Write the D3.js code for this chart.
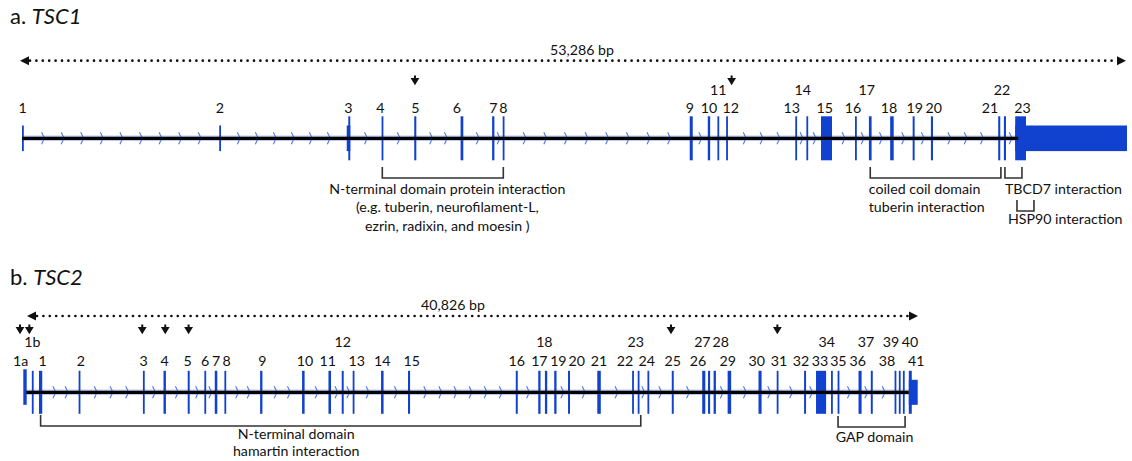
<!DOCTYPE html>
<html><head><meta charset="utf-8">
<script src="https://cdn.jsdelivr.net/npm/d3@7"></script>
<style>
body{margin:0;background:#fff}
svg text{font-family:Lato,"Open Sans",sans-serif;fill:#111}
</style>
</head><body>
<svg id="c" width="1132" height="461"></svg>
<script>
// ================= DATA =================
const tsc1Length = 53286;
const tsc1CdsStart = 15735, tsc1CdsEnd = 48415;
const tsc1ExonNames = ["1","2","3","4","5","6","7","8","9","10","11","12","13","14","15","16","17","18","19","20","21","22","23"];
const tsc1ExonStart = [0,9510,15660,17340,18915,21150,22670,23180,32200,33070,33535,33955,37290,37825,38530,40170,40840,41865,42950,43830,47075,47350,47895];
const tsc1ExonEnd   = [70,9585,15830,17410,19015,21280,22780,23240,32345,33185,33615,34035,37355,37910,39060,40230,40970,42035,43045,43930,47175,47450,53286];
const tsc1Hotspots = [18950, 34220];
const tsc1DomainText = [
  ["N-terminal domain protein interaction","(e.g. tuberin, neurofilament-L,","ezrin, radixin, and moesin )"],
  ["coiled coil domain","tuberin interaction"],
  ["TBCD7 interaction"],
  ["HSP90 interaction"]
];
const tsc1DomainStart = [17375, 40905, 47400, 47980];
const tsc1DomainEnd   = [23210, 47205, 48220, 48800];

const tsc2Length = 40826;
const tsc2CdsStart = 390, tsc2CdsEnd = 40555;
const tsc2ExonNames = ["1a","1b","1","2","3","4","5","6","7","8","9","10","11","12","13","14","15","16","17","18","19","20","21","22","23","24","25","26","27","28","29","30","31","32","33","34","35","36","37","38","39","40","41"];
const tsc2ExonStart = [0,390,715,2525,5460,6400,7505,8265,8740,9180,10810,12725,13930,14535,15035,16330,17560,22480,23505,23810,24235,24865,26200,27790,28045,28490,29600,30990,31255,31510,32150,33560,34390,35640,36185,36870,37170,38125,38685,39770,39965,40150,40420];
const tsc2ExonEnd   = [155,435,865,2585,5530,6510,7595,8325,8855,9235,10915,12840,14045,14625,15095,16445,17655,22570,23610,23915,24340,24955,26360,27850,28105,28550,29690,31130,31350,31615,32310,33700,34450,35730,36645,36940,37240,38265,38775,39815,40010,40195,40826];
const tsc2Hotspots = [-150, 275, 5430, 6480, 7545, 29565, 34420];
const tsc2DomainText = [
  ["N-terminal domain","hamartin interaction"],
  ["GAP domain"]
];
const tsc2DomainStart = [790, 37190];
const tsc2DomainEnd   = [28185, 40250];

// ================= LAYOUT / STYLE =================
const EXON = "#1141cf", CHEV = "#4d78e4", HALO = "#bccbf3";
const FS = "14.2px";
const svg = d3.select("#c");

function drawGene(cfg) {
  const x = d3.scaleLinear().domain([0, cfg.length]).range(cfg.range);
  const g = svg.append("g");
  // title
  const t = g.append("text").attr("x", 10).attr("y", cfg.titleY).style("font-size", "22px");
  t.append("tspan").text(cfg.prefix + " ");
  t.append("tspan").style("font-style", "italic").text(cfg.gene);
  // dotted length arrow
  const ay = cfg.arrowY, ax0 = cfg.arrowX[0], ax1 = cfg.arrowX[1];
  g.append("line").attr("x1", ax0 + 10).attr("x2", ax1 - 9).attr("y1", ay).attr("y2", ay)
    .attr("stroke", "#111").attr("stroke-width", 2.7).attr("stroke-linecap", "round")
    .attr("stroke-dasharray", "0,6.4");
  g.append("path").attr("d", `M${ax0},${ay} l9,-4.5 l0,9 z`).attr("fill", "#111");
  g.append("path").attr("d", `M${ax1},${ay} l-9,-4.5 l0,9 z`).attr("fill", "#111");
  g.append("text").attr("x", cfg.lenLabelX).attr("y", cfg.lenLabelY).attr("text-anchor", "middle")
    .style("font-size", FS).text(d3.format(",")(cfg.length) + " bp");

  const exons = cfg.names.map((n, i) => ({name: n, s: cfg.starts[i], e: cfg.ends[i]}));
  const cy = cfg.cy;
  // backbone halo
  const bb0 = x(exons[0].s) + cfg.bbPad[0], bb1 = x(exons[exons.length - 1].s) + cfg.bbPad[1];
  g.append("line").attr("x1", bb0).attr("x2", bb1).attr("y1", cy).attr("y2", cy)
    .attr("stroke", HALO).attr("stroke-width", 5.5);
  // chevrons in introns
  const chev = [];
  for (let i = 0; i < exons.length - 1; i++) {
    const a = x(exons[i].e), b = x(exons[i + 1].s), gap = b - a;
    if (gap < 8) continue;
    let n = Math.floor(gap / cfg.chevSpacing);
    if (n < 1) n = 1;
    for (let k = 1; k <= n; k++) chev.push(a + gap * k / (n + 1));
  }
  g.selectAll(".chev").data(chev).join("path").attr("class", "chev")
    .attr("d", d => `M${d - 1.4},${cy - 6} L${d + 1.4},${cy} L${d - 1.4},${cy + 6}`)
    .attr("fill", "none").attr("stroke", CHEV).attr("stroke-width", 1.1);
  // exons: UTR height for full extent, tall for CDS overlap
  const w = (a, b) => Math.max(1.8, x(b) - x(a));
  g.selectAll(".utr").data(exons.filter(d => d.s < cfg.cds[0] || d.e > cfg.cds[1])).join("rect")
    .attr("x", d => x(d.s)).attr("width", d => w(d.s, d.e))
    .attr("y", d => cy - (cfg.utrTall[d.name] || cfg.utrH)).attr("height", d => (cfg.utrTall[d.name] || cfg.utrH) + cfg.utrH)
    .attr("fill", EXON);
  const cdsEx = exons.filter(d => d.e > cfg.cds[0] && d.s < cfg.cds[1])
    .map(d => ({name: d.name, s: Math.max(d.s, cfg.cds[0]), e: Math.min(d.e, cfg.cds[1])}));
  g.selectAll(".cds").data(cdsEx).join("rect")
    .attr("x", d => x(d.s)).attr("width", d => w(d.s, d.e))
    .attr("y", cy - cfg.tallH).attr("height", 2 * cfg.tallH).attr("fill", EXON);
  // black backbone on top
  g.append("line").attr("x1", bb0).attr("x2", bb1).attr("y1", cy).attr("y2", cy)
    .attr("stroke", "#000").attr("stroke-width", 3.3);
  // exon labels
  const lab = exons.map(d => {
    const s = Math.max(d.s, cfg.cds[0]), e = Math.min(d.e, cfg.cds[1]);
    const c = (e > s) ? (x(s) + x(e)) / 2 : (x(d.s) + x(d.e)) / 2;
    return {name: d.name, x: c + (cfg.nudge[d.name] || 0), y: cfg.upper.has(d.name) ? cfg.labY[1] : cfg.labY[0]};
  });
  g.selectAll(".lab").data(lab).join("text").attr("class", "lab")
    .attr("x", d => d.x).attr("y", d => d.y).attr("text-anchor", "middle")
    .style("font-size", FS).text(d => d.name);
  // hotspot arrows
  g.selectAll(".hot").data(cfg.hot).join("path").attr("class", "hot")
    .attr("d", d => { const hx = x(d), hy = cfg.hotY; return `M${hx - 1},${hy} h2 v2.5 h3.4 l-4.4,7.2 l-4.4,-7.2 h3.4 z`; })
    .attr("fill", "#111");
  // domain brackets
  cfg.domS.forEach((s, i) => {
    const L = cfg.domLayout[i];
    const x0 = x(s), x1 = x(cfg.domE[i]);
    g.append("path").attr("d", `M${x0},${L.top} V${L.top + L.drop} H${x1} V${L.top}`)
      .attr("fill", "none").attr("stroke", "#333").attr("stroke-width", 1.6);
    const tx = L.anchor === "middle" ? (x0 + x1) / 2 + L.dx : x0 + L.dx;
    cfg.domText[i].forEach((line, j) => {
      g.append("text").attr("x", tx).attr("y", L.ty + j * L.lh).attr("text-anchor", L.anchor)
        .style("font-size", FS).text(line);
    });
  });
}

drawGene({
  prefix: "a.", gene: "TSC1", titleY: 24,
  length: tsc1Length, range: [22, 1127], cy: 138.3,
  arrowY: 60.7, arrowX: [20, 1126], lenLabelX: 582, lenLabelY: 54.5,
  names: tsc1ExonNames, starts: tsc1ExonStart, ends: tsc1ExonEnd, cds: [tsc1CdsStart, tsc1CdsEnd],
  bbPad: [0, 3], chevSpacing: 20.8, utrH: 12.8, utrTall: {}, tallH: 22,
  labY: [113, 95], upper: new Set(["11","14","17","22"]),
  nudge: {"3":-1,"4":-2,"6":-5,"9":-1.3,"12":3.7,"13":-4.3,"14":-4.6,"15":-1.8,"16":-2.7,"17":-3.6,"18":-3,"19":1,"20":1.7,"21":-9.3,"22":-3,"23":2},
  hot: tsc1Hotspots, hotY: 75.5,
  domS: tsc1DomainStart, domE: tsc1DomainEnd, domText: tsc1DomainText,
  domLayout: [
    {top: 167, drop: 11, anchor: "middle", dx: 4.5, ty: 194, lh: 18.3},
    {top: 167, drop: 11, anchor: "start", dx: -1.5, ty: 194, lh: 18.3},
    {top: 167, drop: 11, anchor: "start", dx: 0, ty: 194, lh: 18},
    {top: 200, drop: 11, anchor: "start", dx: -9, ty: 224, lh: 18}
  ]
});

drawGene({
  prefix: "b.", gene: "TSC2", titleY: 285,
  length: tsc2Length, range: [23.3, 917.7], cy: 392.3,
  arrowY: 316, arrowX: [27, 918], lenLabelX: 453, lenLabelY: 310,
  names: tsc2ExonNames, starts: tsc2ExonStart, ends: tsc2ExonEnd, cds: [tsc2CdsStart, tsc2CdsEnd],
  bbPad: [3, 0], chevSpacing: 17, utrH: 12.5, utrTall: {"1a": 23}, tallH: 21.5,
  labY: [366, 347], upper: new Set(["1b","12","18","23","27","28","34","37","39","40"]),
  nudge: {"1a":-4.3,"1":2,"2":1.7,"5":-1,"8":1.7,"9":1,"10":1.7,"11":-2,"13":3.4,"15":2.7,"18":-1.7,"19":3,"20":7.7,"22":-7.7,"23":-2.6,"24":-1.3,"26":-5.7,"27":-6.7,"28":6,"29":-1.6,"30":-3.3,"31":1.7,"32":-4,"33":-1,"34":-5,"36":-2.3,"37":-5.7,"38":-8,"39":-8.3,"40":6.7,"41":6},
  hot: tsc2Hotspots, hotY: 324.5,
  domS: tsc2DomainStart, domE: tsc2DomainEnd, domText: tsc2DomainText,
  domLayout: [
    {top: 415, drop: 11, anchor: "middle", dx: -44.5, ty: 439, lh: 17},
    {top: 416, drop: 11, anchor: "middle", dx: 3, ty: 442, lh: 17}
  ]
});
</script>
</body></html>
